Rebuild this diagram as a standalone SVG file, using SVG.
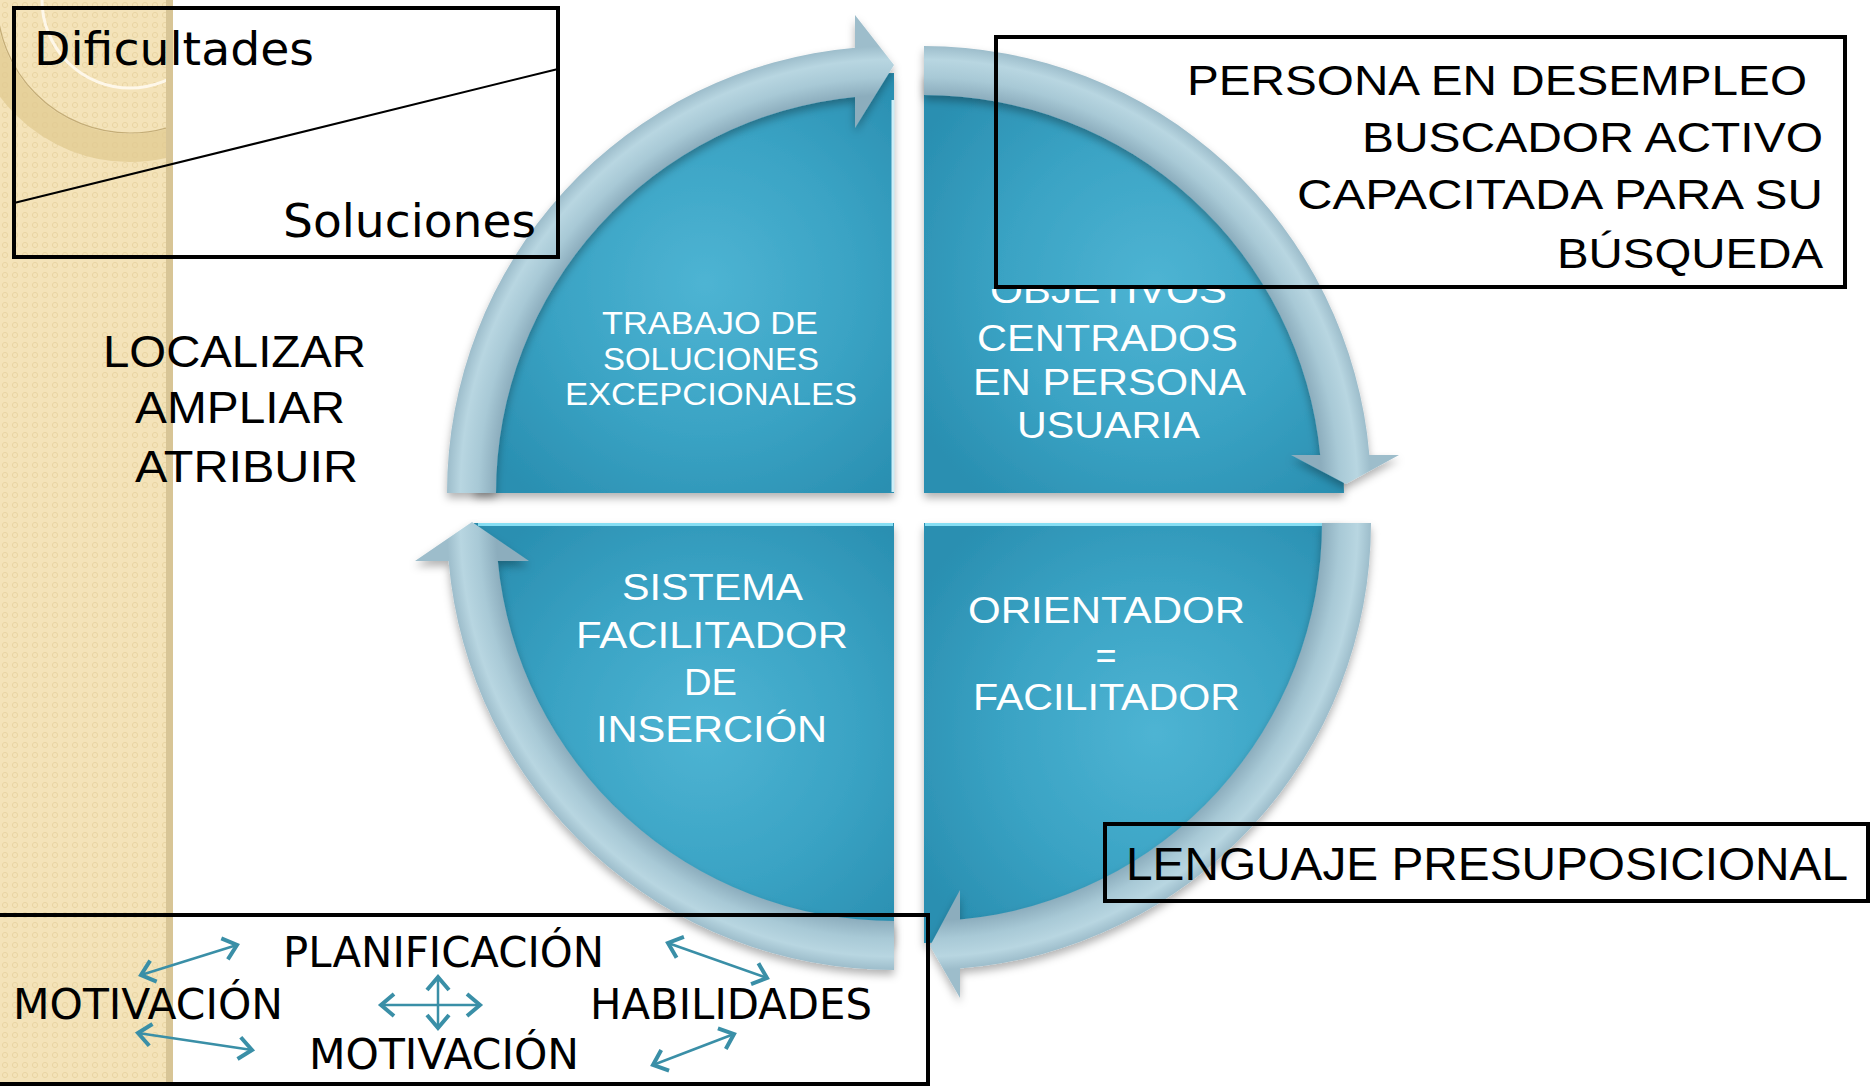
<svg xmlns="http://www.w3.org/2000/svg" width="1872" height="1086" viewBox="0 0 1872 1086">
<style>
.q{fill:url(#qg);filter:url(#sh)}
.band{filter:url(#sh)}
.qt{font-family:"Liberation Sans",Arial,sans-serif;fill:#fff}
.bt{font-family:"Liberation Sans",Arial,sans-serif;fill:#000}
.dj{font-family:"DejaVu Sans",sans-serif;fill:#000}
.box{fill:none;stroke:#000;stroke-width:4}
.sa{stroke:#3a8fa7;stroke-width:2.5;fill:none;marker-start:url(#ch);marker-end:url(#ch)}
.bev{stroke-width:3;fill:none}
</style>
<defs>
<pattern id="dots" width="10" height="10" patternUnits="userSpaceOnUse">
<rect width="10" height="10" fill="#f4e3b9"/>
<circle cx="5" cy="5" r="2.6" fill="none" stroke="#ead5a3" stroke-width="1"/>
</pattern>
<clipPath id="stripClip"><rect x="0" y="0" width="166" height="1086"/></clipPath>
<clipPath id="objClip"><rect x="900" y="289" width="400" height="60"/></clipPath>
<radialGradient id="qg" cx="0.55" cy="0.5" r="0.65">
<stop offset="0" stop-color="#4eb4d3"/>
<stop offset="0.55" stop-color="#3aa3c4"/>
<stop offset="1" stop-color="#2a8fb1"/>
</radialGradient>
<radialGradient id="bg1" gradientUnits="userSpaceOnUse" cx="894" cy="493" r="447">
<stop offset="0.89" stop-color="#8cadbd"/><stop offset="0.93" stop-color="#a8c9d6"/><stop offset="0.97" stop-color="#b8d6e1"/><stop offset="1" stop-color="#9dbdcb"/>
</radialGradient>
<radialGradient id="bg2" gradientUnits="userSpaceOnUse" cx="924" cy="493" r="447">
<stop offset="0.89" stop-color="#8cadbd"/><stop offset="0.93" stop-color="#a8c9d6"/><stop offset="0.97" stop-color="#b8d6e1"/><stop offset="1" stop-color="#9dbdcb"/>
</radialGradient>
<radialGradient id="bg3" gradientUnits="userSpaceOnUse" cx="894" cy="523" r="447">
<stop offset="0.89" stop-color="#8cadbd"/><stop offset="0.93" stop-color="#a8c9d6"/><stop offset="0.97" stop-color="#b8d6e1"/><stop offset="1" stop-color="#9dbdcb"/>
</radialGradient>
<radialGradient id="bg4" gradientUnits="userSpaceOnUse" cx="924" cy="523" r="447">
<stop offset="0.89" stop-color="#8cadbd"/><stop offset="0.93" stop-color="#a8c9d6"/><stop offset="0.97" stop-color="#b8d6e1"/><stop offset="1" stop-color="#9dbdcb"/>
</radialGradient>
<filter id="sh" x="-5%" y="-5%" width="110%" height="115%">
<feDropShadow dx="0" dy="5" stdDeviation="4" flood-color="#000" flood-opacity="0.3"/>
</filter>
<marker id="ch" viewBox="-18 -14 22 28" markerWidth="22" markerHeight="28" refX="0" refY="0" orient="auto-start-reverse" markerUnits="userSpaceOnUse">
<path d="M-13,-11 L0,0 L-13,11" fill="none" stroke="#3a8fa7" stroke-width="4"/>
</marker>
</defs>

<rect width="1872" height="1086" fill="#ffffff"/>

<g id="background-strip">
<rect x="0" y="0" width="166" height="1086" fill="url(#dots)"/>
<rect x="166" y="0" width="7" height="1086" fill="#d8c596"/>
<g clip-path="url(#stripClip)">
<circle cx="130" cy="0" r="148" fill="none" stroke="#e0c98f" stroke-width="28" opacity="0.7"/>
<circle cx="130" cy="0" r="133" fill="none" stroke="#c4ad77" stroke-width="1.2"/>
<circle cx="130" cy="0" r="88" fill="none" stroke="#fffaf0" stroke-width="3" opacity="0.9"/>
</g>
</g>

<g id="node-trabajo">
<path class="q" d="M894,493 L474,493 A420,420 0 0 1 894,73 Z"/>
<line class="bev" x1="893" y1="100" x2="893" y2="492" stroke="#cdeef7"/>
<text class="qt" font-size="31" x="602" y="334" textLength="216" lengthAdjust="spacingAndGlyphs">TRABAJO DE</text>
<text class="qt" font-size="31" x="603" y="370" textLength="216" lengthAdjust="spacingAndGlyphs">SOLUCIONES</text>
<text class="qt" font-size="31" x="565" y="405" textLength="292" lengthAdjust="spacingAndGlyphs">EXCEPCIONALES</text>
</g>

<g id="node-objetivos">
<path class="q" d="M924,493 L924,73 A420,420 0 0 1 1344,493 Z"/>
<g clip-path="url(#objClip)">
<text class="qt" font-size="36" x="990" y="303" textLength="237" lengthAdjust="spacingAndGlyphs">OBJETIVOS</text>
</g>
<text class="qt" font-size="36" x="977" y="351" textLength="261" lengthAdjust="spacingAndGlyphs">CENTRADOS</text>
<text class="qt" font-size="36" x="973" y="395" textLength="273" lengthAdjust="spacingAndGlyphs">EN PERSONA</text>
<text class="qt" font-size="36" x="1017" y="438" textLength="183" lengthAdjust="spacingAndGlyphs">USUARIA</text>
</g>

<g id="node-sistema">
<path class="q" d="M894,523 L894,943 A420,420 0 0 1 474,523 Z"/>
<line class="bev" x1="478" y1="524.5" x2="893" y2="524.5" stroke="#86def3"/>
<text class="qt" font-size="36" x="622" y="600" textLength="181" lengthAdjust="spacingAndGlyphs">SISTEMA</text>
<text class="qt" font-size="36" x="576" y="648" textLength="272" lengthAdjust="spacingAndGlyphs">FACILITADOR</text>
<text class="qt" font-size="36" x="684" y="695" textLength="53" lengthAdjust="spacingAndGlyphs">DE</text>
<text class="qt" font-size="36" x="596" y="742" textLength="231" lengthAdjust="spacingAndGlyphs">INSERCIÓN</text>
</g>

<g id="node-orientador">
<path class="q" d="M924,523 L1344,523 A420,420 0 0 1 924,943 Z"/>
<line class="bev" x1="925" y1="524.5" x2="1330" y2="524.5" stroke="#86def3"/>
<text class="qt" font-size="36" x="968" y="623" textLength="277" lengthAdjust="spacingAndGlyphs">ORIENTADOR</text>
<text class="qt" font-size="36" x="1106" y="668" text-anchor="middle">=</text>
<text class="qt" font-size="36" x="973" y="710" textLength="267" lengthAdjust="spacingAndGlyphs">FACILITADOR</text>
</g>

<g id="connectors">
<g id="cycle-arrows">
<path class="band" fill="url(#bg1)" d="M447,493 A447,447 0 0 1 855,47.7 L855,15 L894,65 L855,128 L855,96.9 A398,398 0 0 0 496,493 Z"/>
<path class="band" fill="url(#bg2)" d="M924,46 A447,447 0 0 1 1369.4,455 L1399,455 L1346,484 L1291,455 L1320.2,455 A398,398 0 0 0 924,95 Z"/>
<path class="band" fill="url(#bg3)" d="M894,970 A447,447 0 0 1 448.6,561 L415,561 L472,522 L529,561 L497.8,561 A398,398 0 0 0 894,921 Z"/>
<path class="band" fill="url(#bg4)" d="M1371,523 A447,447 0 0 1 960,968.5 L960,998 L930,946 L960,890 L960,919.4 A398,398 0 0 0 1322,523 Z"/>
</g>
<g id="small-arrows">
<line class="sa" x1="141" y1="975" x2="237" y2="945"/>
<line class="sa" x1="668" y1="943" x2="767" y2="978"/>
<line class="sa" x1="381" y1="1005" x2="480" y2="1005"/>
<line class="sa" x1="438" y1="977" x2="438" y2="1028"/>
<line class="sa" x1="138" y1="1033" x2="252" y2="1050"/>
<line class="sa" x1="653" y1="1065" x2="734" y2="1034"/>
</g>
</g>

<g id="node-dificultades">
<rect class="box" x="14" y="8" width="544" height="249"/>
<line x1="14" y1="203" x2="558" y2="69" stroke="#000" stroke-width="2"/>
<text class="dj" font-size="46" x="34" y="65" textLength="280" lengthAdjust="spacingAndGlyphs">Dificultades</text>
<text class="dj" font-size="46" x="283" y="237" textLength="253" lengthAdjust="spacingAndGlyphs">Soluciones</text>
</g>

<g id="node-localizar">
<text class="bt" font-size="45" x="103" y="367" textLength="263" lengthAdjust="spacingAndGlyphs">LOCALIZAR</text>
<text class="bt" font-size="45" x="135" y="423" textLength="210" lengthAdjust="spacingAndGlyphs">AMPLIAR</text>
<text class="bt" font-size="45" x="135" y="482" textLength="223" lengthAdjust="spacingAndGlyphs">ATRIBUIR</text>
</g>

<g id="node-persona">
<rect class="box" x="996" y="37" width="849" height="250"/>
<text class="bt" font-size="42" x="1187" y="95" textLength="620" lengthAdjust="spacingAndGlyphs">PERSONA EN DESEMPLEO</text>
<text class="bt" font-size="42" x="1362" y="152" textLength="461" lengthAdjust="spacingAndGlyphs">BUSCADOR ACTIVO</text>
<text class="bt" font-size="42" x="1297" y="209" textLength="526" lengthAdjust="spacingAndGlyphs">CAPACITADA PARA SU</text>
<text class="bt" font-size="42" x="1557" y="268" textLength="266" lengthAdjust="spacingAndGlyphs">BÚSQUEDA</text>
</g>

<g id="node-lenguaje">
<rect class="box" x="1105" y="824" width="763" height="77"/>
<text class="bt" font-size="47" x="1126" y="880" textLength="722" lengthAdjust="spacingAndGlyphs">LENGUAJE PRESUPOSICIONAL</text>
</g>

<g id="node-bottom">
<rect class="box" x="-5" y="915" width="933" height="169"/>
<text class="dj" font-size="43" x="283" y="967" textLength="321" lengthAdjust="spacingAndGlyphs">PLANIFICACIÓN</text>
<text class="dj" font-size="43" x="13" y="1019" textLength="270" lengthAdjust="spacingAndGlyphs">MOTIVACIÓN</text>
<text class="dj" font-size="43" x="590" y="1019" textLength="282" lengthAdjust="spacingAndGlyphs">HABILIDADES</text>
<text class="dj" font-size="43" x="309" y="1069" textLength="270" lengthAdjust="spacingAndGlyphs">MOTIVACIÓN</text>
</g>
</svg>
